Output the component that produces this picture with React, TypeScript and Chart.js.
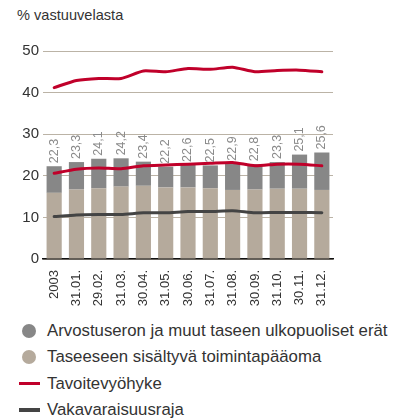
import React, { useEffect, useRef } from "react";
import { Chart, registerables } from "chart.js";

Chart.register(...registerables);

const categories = ["2003", "31.01.", "29.02.", "31.03.", "30.04.", "31.05.", "30.06.", "31.07.", "31.08.", "30.09.", "31.10.", "30.11.", "31.12."];
const totals = [22.3, 23.3, 24.1, 24.2, 23.4, 22.2, 22.6, 22.5, 22.9, 22.8, 23.3, 25.1, 25.6];
const baseCapital = [15.9, 16.7, 17.0, 17.4, 17.6, 17.2, 17.2, 17.0, 16.6, 16.7, 16.9, 16.9, 16.6];
const targetLower = [20.6, 21.6, 21.9, 21.7, 22.4, 22.6, 22.8, 23.0, 23.2, 22.4, 22.8, 22.8, 22.4];
const targetUpper = [41.2, 42.9, 43.4, 43.4, 45.2, 45.0, 45.8, 45.6, 46.1, 45.0, 45.3, 45.4, 45.0];
const solvencyLimit = [10.2, 10.6, 10.7, 10.7, 11.1, 11.1, 11.4, 11.4, 11.6, 11.1, 11.2, 11.2, 11.1];
const yTicks = [0, 10, 20, 30, 40, 50];

const valuationDiff = totals.map((t, i) => +(t - baseCapital[i]).toFixed(1));

const FONT = "'Liberation Sans', Arial, sans-serif";
const C_GRAY = "#878787";
const C_BEIGE = "#b5aa9c";
const C_RED = "#c0002a";
const C_DARK = "#444444";

const labelPlugin = {
  id: "totalLabels",
  afterDatasetsDraw(chart: any) {
    const meta = chart.getDatasetMeta(1);
    const ctx = chart.ctx;
    ctx.save();
    ctx.fillStyle = "#8a8a8a";
    ctx.font = `12.5px ${FONT}`;
    ctx.textAlign = "left";
    ctx.textBaseline = "middle";
    meta.data.forEach((el: any, i: number) => {
      ctx.save();
      ctx.translate(el.x, el.y - 3);
      ctx.rotate(-Math.PI / 2);
      ctx.fillText(totals[i].toFixed(1).replace(".", ","), 0, 0);
      ctx.restore();
    });
    ctx.restore();
  },
};

export default function App() {
  const ref = useRef<HTMLCanvasElement>(null);
  useEffect(() => {
    if (!ref.current) return;
    const chart = new Chart(ref.current, {
      type: "bar",
      data: {
        labels: categories,
        datasets: [
          { type: "bar", label: "Taseeseen sisältyvä toimintapääoma", data: baseCapital, backgroundColor: C_BEIGE, order: 2, stack: "bars" },
          { type: "bar", label: "Arvostuseron ja muut taseen ulkopuoliset erät", data: valuationDiff, backgroundColor: C_GRAY, order: 2, stack: "bars" },
          { type: "line", label: "Tavoitevyöhyke", data: targetLower, borderColor: C_RED, borderWidth: 3, pointRadius: 0, tension: 0.2, order: 1, stack: "l1", borderCapStyle: "round", borderJoinStyle: "round" } as any,
          { type: "line", label: "Tavoitevyöhyke ylä", data: targetUpper, borderColor: C_RED, borderWidth: 3, pointRadius: 0, tension: 0.2, order: 1, stack: "l2", borderCapStyle: "round", borderJoinStyle: "round" } as any,
          { type: "line", label: "Vakavaraisuusraja", data: solvencyLimit, borderColor: C_DARK, borderWidth: 3, pointRadius: 0, tension: 0.2, order: 1, stack: "l3", borderCapStyle: "round", borderJoinStyle: "round" } as any,
        ],
      },
      options: {
        animation: false,
        responsive: false,
        layout: { padding: { top: 51, right: 70, left: 0, bottom: 0 } },
        datasets: { bar: { barPercentage: 0.68, categoryPercentage: 1 } },
        plugins: { legend: { display: false }, tooltip: { enabled: false } },
        scales: {
          x: {
            stacked: true,
            grid: { display: false },
            border: { display: true, color: "#111", width: 1.5 },
            ticks: { minRotation: 90, maxRotation: 90, autoSkip: false, color: "#333", font: { family: FONT, size: 13 }, padding: 3 },
            afterFit: (s: any) => { s.height = 56; },
          },
          y: {
            stacked: true,
            min: 0,
            max: 50,
            afterBuildTicks: (s: any) => { s.ticks = yTicks.map((v) => ({ value: v })); },
            grid: { color: "#bbb3a6", lineWidth: 1, drawTicks: false },
            border: { display: false },
            ticks: { color: "#333", font: { family: FONT, size: 15 }, padding: 4 },
            afterFit: (s: any) => { s.width = 43; },
          },
        },
      },
      plugins: [labelPlugin],
    });
    return () => chart.destroy();
  }, []);

  const legendItems = [
    { label: "Arvostuseron ja muut taseen ulkopuoliset erät", color: C_GRAY, kind: "circle" },
    { label: "Taseeseen sisältyvä toimintapääoma", color: C_BEIGE, kind: "circle" },
    { label: "Tavoitevyöhyke", color: C_RED, kind: "line" },
    { label: "Vakavaraisuusraja", color: C_DARK, kind: "line" },
  ];

  return (
    <div style={{ position: "absolute", left: 0, top: 0, width: 403, height: 420, background: "#fff", fontFamily: FONT, color: "#333" }}>
      <div style={{ position: "absolute", left: 17, top: 7, fontSize: 14.6 }}>% vastuuvelasta</div>
      <canvas ref={ref} width={403} height={315} style={{ position: "absolute", left: 0, top: 0 }} />
      {legendItems.map((it, i) => (
        <div key={i} style={{ position: "absolute", left: 0, top: 331 + i * 26.3 - 10, height: 20, width: 403, display: "flex", alignItems: "center" }}>
          {it.kind === "circle" ? (
            <span style={{ position: "absolute", left: 22, width: 14, height: 14, borderRadius: 7, background: it.color }} />
          ) : (
            <span style={{ position: "absolute", left: 19, width: 21, height: 3.5, background: it.color }} />
          )}
          <span style={{ position: "absolute", left: 47, fontSize: 16.8, whiteSpace: "nowrap" }}>{it.label}</span>
        </div>
      ))}
    </div>
  );
}
